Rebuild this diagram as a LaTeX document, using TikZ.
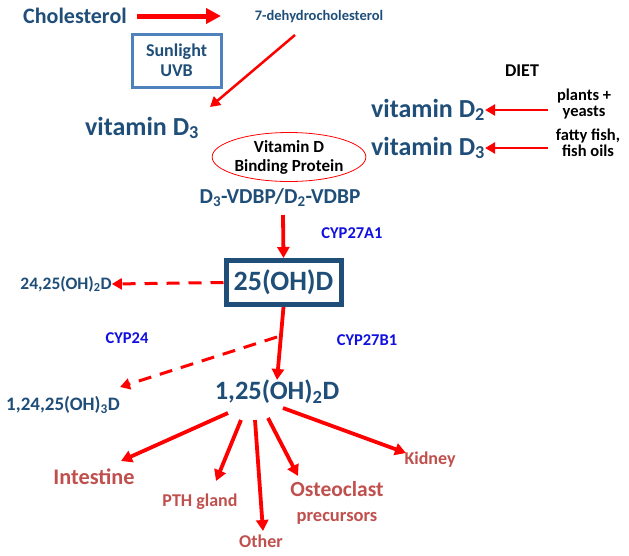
\documentclass[tikz,border=0pt]{standalone}
\usepackage{fontspec}
\setmainfont{Carlito}
\usetikzlibrary{arrows.meta,shapes.geometric}
\definecolor{dblue}{HTML}{1F4E79}
\definecolor{tred}{HTML}{C0504D}
\definecolor{cypblue}{HTML}{1010E0}
\definecolor{uvbox}{HTML}{4F81BD}
\definecolor{arrred}{HTML}{FF0000}
\newcommand{\fs}[1]{\fontsize{#1}{#1}\selectfont}
\newcommand{\fsl}[2]{\fontsize{#1}{#2}\selectfont}
\tikzset{
  every node/.style={inner sep=0pt, align=center, font=\bfseries},
  bl/.style={text=dblue},
  rd/.style={text=tred},
  cyp/.style={text=cypblue, font=\bfseries\fs{16.5}},
  bigarr/.style={draw=arrred, line width=5pt, -{Triangle[length=15pt,width=15pt]}},
  midarr/.style={draw=arrred, line width=3.8pt, -{Triangle[length=11pt,width=12pt]}},
  thinarr/.style={draw=arrred, line width=2.5pt, -{Triangle[length=10pt,width=11pt]}},
  dasharr/.style={draw=arrred, line width=3pt, dash pattern=on 13pt off 9pt, -{Triangle[length=10pt,width=11pt]}},
}
\begin{document}
\begin{tikzpicture}[x=1pt,y=-1pt]
\useasboundingbox[fill=white] (0,0) rectangle (629,555);

% top
\node[bl, font=\bfseries\fs{22}] (chol) at (75,16) {Cholesterol};
\node[bl, font=\bfseries\fs{14.5}] (dehydro) at (319,17) {7-dehydrocholesterol};
\node[bl, draw=uvbox, line width=3pt, minimum width=89pt, minimum height=53pt, font=\bfseries\fsl{18}{20}] (uvb) at (176.5,60.5) {Sunlight\\UVB};
\node[bl, font=\bfseries\fs{26}] (vd3) at (142,128) {vitamin D\textsubscript{3}};

\coordinate (c1) at (137,16);
\coordinate (c2) at (221,16);
\coordinate (c3) at (295,35);
\coordinate (c4) at (210,107);
\draw[bigarr] (c1) -- (c2);
\draw[thinarr] (c3) -- (c4);

% binding protein
\node[draw=arrred, line width=0.8pt, ellipse, minimum width=146pt, minimum height=49pt, font=\bfseries\fsl{17}{19}] (vdbp) at (289,157) {Vitamin D\\Binding Protein};

% diet
\node[font=\bfseries\fs{18}] (diet) at (522,71) {DIET};
\node[bl, font=\bfseries\fs{26}] (vd2) at (428,110) {vitamin D\textsubscript{2}};
\node[bl, font=\bfseries\fs{26}] (vd3b) at (428,148) {vitamin D\textsubscript{3}};
\node[font=\bfseries\fsl{16.5}{16}] (plants) at (584,104) {plants +\\yeasts};
\node[font=\bfseries\fsl{16.5}{16}] (fish) at (588,143) {fatty fish,\\fish oils};
\coordinate (p1) at (548,110);
\coordinate (p2) at (548,148);
\draw[thinarr] (p1) -- (vd2.east);
\draw[thinarr] (p2) -- (vd3b.east);

% D3-VDBP
\node[bl, font=\bfseries\fs{21.3}] (dvdbp) at (280,198) {D\textsubscript{3}-VDBP/D\textsubscript{2}-VDBP};
\node[draw=dblue, line width=5pt, minimum width=115pt, minimum height=44pt, text=dblue, font=\bfseries\fs{28}] (ohd) at (283.5,282.5) {25(OH)D};
\coordinate (v1) at (283,215);
\draw[midarr] (v1) -- (ohd.north);
\node[cyp] (cyp27a1) at (352,233) {CYP27A1};

\node[bl, font=\bfseries\fs{17.5}] (d2425) at (66,284) {24,25(OH)\textsubscript{2}D};
\draw[dasharr] (ohd.west) -- (d2425.east);

\node[cyp] (cyp24) at (127,338) {CYP24};
\node[cyp] (cyp27b1) at (367,340) {CYP27B1};

\node[bl, font=\bfseries\fs{26.5}] (d125) at (277,392) {1,25(OH)\textsubscript{2}D};
\draw[midarr] (ohd.south) -- (d125.north);
\node[bl, font=\bfseries\fs{19}] (d12425) at (63,405) {1,24,25(OH)\textsubscript{3}D};
\coordinate (k1) at (277,337);
\coordinate (k2) at (120,387);
\draw[dasharr] (k1) -- (k2);

% targets
\node[rd, font=\bfseries\fs{22.3}] (intest) at (94,477) {Intestine};
\node[rd, font=\bfseries\fs{18}] (pth) at (200,502) {PTH gland};
\node[rd, font=\bfseries\fs{18}] (other) at (261,541) {Other};
\node[rd, font=\bfseries\fsl{21.5}{25}] (osteo) at (337,503) {Osteoclast\\{\fs{18.5}precursors}};
\node[rd, font=\bfseries\fs{18}] (kidney) at (430,460) {Kidney};

\coordinate (a1) at (228,413);
\coordinate (a2) at (241,420);
\coordinate (a3) at (255,420);
\coordinate (a4) at (268,418);
\coordinate (a5) at (283,408);
\coordinate (b1) at (121,461);
\coordinate (b2) at (216,481);
\coordinate (b3) at (263,531);
\coordinate (b4) at (298,476);
\coordinate (b5) at (406,453);
\draw[midarr] (a1) -- (b1);
\draw[midarr] (a2) -- (b2);
\draw[midarr] (a3) -- (b3);
\draw[midarr] (a4) -- (b4);
\draw[midarr] (a5) -- (b5);
\end{tikzpicture}
\end{document}
